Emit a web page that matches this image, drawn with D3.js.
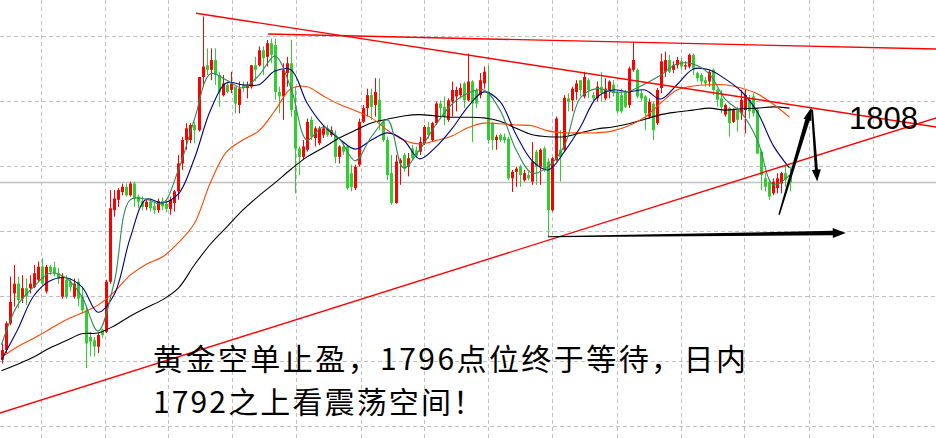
<!DOCTYPE html>
<html>
<head>
<meta charset="utf-8">
<script src="https://cdn.jsdelivr.net/npm/d3@7"></script>
<style>
  body { margin: 0; background: #fff; }
  svg { display: block; }
</style>
</head>
<body>
<svg id="chart" width="936" height="438"></svg>
<script>
// Candles: [open, high, low, close]
const candles = [
  [1770.2,1772.7,1769.6,1771.7],[1771.7,1776.1,1771.2,1775.8],[1775.8,1783.0,1775.5,1779.1],[1780.4,1784.8,1778.4,1781.9],
  [1781.9,1783.0,1778.1,1779.4],[1779.6,1783.2,1778.9,1781.2],[1781.2,1782.7,1778.6,1779.9],[1781.2,1783.2,1780.4,1781.9],
  [1781.4,1784.8,1781.2,1783.5],[1782.5,1785.3,1782.2,1784.5],[1784.5,1785.8,1781.7,1781.9],[1780.7,1784.8,1780.4,1784.5],
  [1784.5,1784.8,1783.2,1783.7],[1784.4,1785.3,1783.0,1783.5],[1783.5,1784.3,1781.9,1782.7],[1779.9,1783.5,1779.6,1783.0],
  [1782.5,1783.2,1779.6,1779.9],[1782.2,1782.7,1780.7,1781.4],[1779.9,1782.7,1779.6,1781.9],[1782.2,1782.7,1778.4,1779.6],
  [1779.9,1781.4,1777.3,1777.8],[1777.8,1778.4,1768.9,1772.7],[1773.7,1774.5,1770.7,1773.0],[1773.2,1773.7,1770.7,1772.2],
  [1772.2,1774.3,1771.2,1774.0],[1774.8,1775.0,1773.5,1774.0],[1774.5,1782.5,1774.3,1782.2],[1782.2,1796.3,1781.9,1793.5],
  [1793.2,1796.3,1792.2,1795.0],[1794.8,1796.6,1793.7,1796.3],[1796.0,1797.3,1795.5,1796.8],[1796.8,1797.3,1795.3,1795.5],
  [1795.5,1797.6,1795.3,1797.3],[1797.3,1797.6,1793.7,1795.0],[1795.3,1795.6,1793.5,1794.5],[1794.6,1795.3,1793.2,1793.7],
  [1793.7,1795.0,1793.2,1794.5],[1794.5,1795.0,1793.0,1793.5],[1793.8,1794.4,1792.6,1793.2],[1793.2,1795.0,1792.8,1794.6],
  [1794.6,1795.2,1793.2,1793.8],[1794.2,1794.8,1792.9,1793.4],[1793.4,1795.3,1792.5,1794.8],[1794.3,1796.3,1793.0,1796.1],
  [1796.1,1801.7,1794.8,1800.4],[1800.4,1804.5,1799.4,1804.0],[1804.0,1806.6,1802.5,1805.8],[1804.0,1806.6,1803.5,1806.3],
  [1806.3,1806.8,1803.5,1805.5],[1805.5,1813.7,1805.3,1813.7],[1813.7,1823.0,1812.2,1815.3],[1815.5,1818.1,1814.0,1814.8],
  [1814.8,1818.1,1813.2,1816.3],[1816.3,1818.1,1812.5,1814.0],[1814.0,1814.5,1809.1,1811.4],[1810.9,1814.0,1810.7,1812.7],
  [1812.5,1813.0,1811.2,1811.4],[1811.7,1814.5,1811.2,1812.7],[1812.2,1812.2,1808.1,1809.6],[1809.4,1813.0,1808.1,1811.9],
  [1812.5,1813.0,1811.4,1812.0],[1812.0,1813.0,1810.4,1812.5],[1812.2,1815.5,1811.9,1815.5],[1815.5,1816.8,1813.0,1814.8],
  [1815.5,1818.4,1815.3,1817.8],[1817.8,1818.4,1814.0,1816.6],[1816.8,1819.4,1815.3,1818.9],[1818.9,1819.6,1815.8,1817.1],
  [1818.6,1819.6,1810.2,1811.4],[1811.4,1812.2,1808.1,1810.7],[1810.7,1815.8,1807.1,1814.8],[1814.3,1816.8,1812.2,1815.8],
  [1815.8,1819.4,1807.6,1808.6],[1808.6,1812.2,1795.8,1802.7],[1802.7,1803.0,1798.6,1801.4],[1801.4,1804.0,1800.9,1803.0],
  [1802.5,1807.3,1802.2,1806.8],[1807.1,1807.6,1804.0,1804.5],[1804.3,1806.1,1803.0,1805.8],[1803.5,1806.1,1803.2,1805.8],
  [1804.8,1806.3,1804.3,1805.8],[1805.8,1806.3,1804.5,1804.8],[1804.8,1806.1,1804.5,1805.5],[1804.8,1805.5,1800.4,1801.4],
  [1801.4,1803.2,1800.4,1803.0],[1803.0,1803.5,1801.7,1802.2],[1803.0,1803.2,1796.3,1796.6],[1798.9,1800.2,1796.1,1796.8],
  [1796.6,1800.2,1796.3,1799.9],[1800.2,1807.3,1799.9,1806.8],[1806.8,1809.4,1806.6,1808.9],[1808.9,1811.9,1807.6,1810.9],
  [1810.9,1811.9,1807.1,1809.1],[1809.4,1813.5,1807.6,1811.4],[1810.2,1813.5,1805.5,1806.8],[1806.8,1807.1,1803.7,1804.0],
  [1804.0,1804.5,1797.8,1798.6],[1798.9,1801.7,1794.0,1794.3],[1794.3,1801.7,1794.2,1800.7],[1800.4,1801.2,1797.1,1800.9],
  [1801.7,1802.0,1799.1,1799.6],[1799.9,1802.0,1798.4,1801.2],[1802.7,1803.2,1800.9,1801.2],[1802.4,1803.0,1801.2,1801.6],
  [1802.2,1804.5,1801.7,1803.7],[1803.5,1806.3,1803.2,1806.0],[1806.0,1806.8,1804.2,1804.8],[1804.0,1806.8,1803.7,1806.6],
  [1806.6,1809.9,1806.3,1809.6],[1809.6,1810.1,1807.6,1808.9],[1809.1,1810.7,1806.3,1807.6],[1807.1,1810.4,1806.8,1810.1],
  [1809.9,1813.0,1807.6,1811.7],[1810.7,1812.2,1808.4,1811.7],[1810.9,1812.7,1810.4,1812.0],[1812.7,1813.0,1808.9,1810.1],
  [1810.1,1817.3,1809.9,1813.0],[1813.0,1813.2,1803.7,1809.6],[1811.7,1812.0,1808.9,1809.6],[1810.9,1814.3,1810.4,1813.2],
  [1812.7,1815.3,1811.9,1814.5],[1811.4,1815.5,1803.5,1804.0],[1806.6,1806.8,1802.5,1804.0],[1804.0,1804.8,1802.5,1804.5],
  [1804.8,1805.0,1803.7,1804.0],[1804.5,1805.0,1803.5,1804.0],[1804.2,1804.5,1797.8,1798.1],[1798.1,1799.4,1796.0,1799.1],
  [1799.1,1799.9,1796.8,1799.6],[1799.9,1800.2,1796.8,1798.6],[1797.8,1799.4,1797.6,1798.9],[1798.6,1799.1,1797.8,1798.1],
  [1797.6,1803.7,1797.1,1800.7],[1802.2,1802.5,1797.1,1799.9],[1799.9,1802.7,1797.1,1802.5],[1802.7,1803.0,1799.1,1799.4],
  [1800.7,1801.2,1789.1,1793.2],[1793.2,1801.4,1793.0,1801.2],[1800.9,1807.6,1800.7,1807.3],[1802.5,1805.5,1797.6,1801.4],
  [1802.5,1810.9,1802.2,1810.5],[1810.4,1811.2,1808.4,1809.9],[1810.1,1812.2,1808.4,1811.9],[1811.4,1813.2,1810.2,1812.7],
  [1813.2,1813.2,1810.7,1811.7],[1810.7,1814.5,1810.4,1813.7],[1813.2,1813.5,1810.4,1811.7],[1810.9,1811.4,1809.9,1810.4],
  [1810.4,1813.0,1809.9,1812.2],[1812.2,1814.5,1809.9,1811.2],[1810.4,1813.5,1810.1,1811.9],[1811.7,1813.2,1810.4,1813.0],
  [1812.5,1813.2,1810.7,1811.2],[1811.4,1811.7,1808.1,1808.4],[1810.9,1811.9,1808.1,1808.4],[1811.4,1811.7,1808.9,1809.1],
  [1809.4,1815.3,1808.9,1815.0],[1814.8,1819.1,1814.5,1816.3],[1814.8,1815.0,1810.4,1810.7],[1811.2,1811.7,1809.9,1810.4],
  [1810.7,1810.9,1805.5,1808.1],[1807.6,1810.4,1807.3,1809.9],[1809.6,1809.9,1804.0,1805.5],[1806.6,1812.0,1806.3,1811.7],
  [1812.0,1817.3,1811.2,1816.1],[1814.5,1817.6,1813.7,1816.3],[1816.3,1817.1,1814.3,1814.5],[1814.8,1816.1,1814.3,1815.5],
  [1815.5,1816.8,1815.0,1816.3],[1816.1,1816.6,1814.8,1815.3],[1815.3,1816.1,1814.8,1815.5],[1815.3,1817.3,1815.0,1817.1],
  [1817.1,1817.3,1814.0,1815.0],[1814.3,1814.5,1813.0,1813.5],[1814.0,1814.3,1812.5,1813.0],[1813.2,1813.7,1812.2,1812.7],
  [1813.0,1814.8,1812.2,1814.5],[1814.8,1815.0,1810.9,1811.7],[1811.7,1811.9,1809.1,1810.2],[1810.4,1811.7,1808.1,1809.1],
  [1807.9,1809.6,1807.6,1809.4],[1808.9,1809.1,1804.5,1806.6],[1806.8,1808.9,1806.6,1808.6],[1808.6,1809.1,1805.3,1807.1],
  [1808.1,1811.7,1807.1,1810.2],[1808.6,1811.7,1805.0,1810.9],[1810.2,1810.9,1807.3,1808.4],[1810.7,1811.2,1807.6,1808.1],
  [1808.6,1808.9,1801.9,1801.9],[1802.2,1802.5,1796.3,1798.6],[1798.1,1798.9,1796.1,1796.8],[1797.6,1797.9,1794.8,1795.3],
  [1795.8,1798.1,1795.5,1797.6],[1796.6,1798.9,1795.8,1798.1],[1797.3,1799.1,1795.8,1798.9],[1798.9,1800.2,1796.8,1797.9],
  [1798.6,1799.9,1796.1,1797.5]
];

// Moving averages, read every 4th bar
const maStep = 4;
const ma5  = [1772.5,1778.6,1781.4,1783.5,1782.8,1779.9,1774.6,1782.0,1794.8,1794.9,1794.2,1799.4,1807.2,1814.2,1813.2,1812.0,1813.9,1816.9,1812.0,1804.0,1806.0,1804.2,1800.8,1804.5,1807.1,1799.7,1802.5,1806.3,1809.5,1811.2,1811.7,1808.6,1802.5,1798.9,1799.9,1803.1,1810.5,1811.9,1811.4,1811.5,1812.6,1814.0,1815.7,1815.7,1814.2,1810.3,1808.2,1804.0,1797.1,1798.6];
const ma10 = [1770.2,1774.8,1780.0,1782.3,1782.8,1781.4,1777.5,1780.2,1788.9,1794.9,1794.3,1795.7,1801.2,1808.6,1812.8,1812.5,1812.5,1814.6,1814.8,1809.7,1806.3,1804.2,1802.6,1804.0,1805.1,1804.0,1801.1,1802.9,1805.7,1809.1,1811.4,1809.9,1804.8,1800.8,1799.4,1802.2,1806.0,1810.5,1811.7,1811.4,1811.7,1810.3,1812.5,1814.9,1814.8,1813.4,1811.5,1808.3,1803.1,1799.7];
const ma30 = [1770.6,1772.2,1773.5,1774.9,1776.3,1777.4,1778.6,1780.6,1783.2,1784.9,1786.0,1788.2,1791.2,1797.5,1802.2,1804.0,1805.4,1808.5,1811.9,1812.2,1810.8,1809.5,1808.5,1807.4,1805.5,1804.0,1803.4,1803.9,1804.6,1805.9,1806.6,1806.5,1806.3,1806.2,1805.4,1805.1,1805.1,1805.1,1805.4,1806.2,1807.5,1809.7,1811.7,1812.3,1812.5,1812.5,1812.0,1811.1,1809.5,1807.5];
const ma60 = [1768.5,1769.5,1770.6,1772.0,1773.1,1774.2,1774.3,1775.4,1776.9,1778.2,1779.4,1781.2,1784.8,1788.0,1790.6,1793.2,1795.4,1797.4,1799.5,1801.4,1802.8,1804.3,1805.5,1806.6,1807.2,1807.7,1807.9,1807.7,1807.5,1807.5,1807.4,1806.9,1805.8,1804.8,1804.5,1804.5,1805.1,1805.7,1806.0,1806.5,1807.2,1807.9,1808.3,1808.6,1808.9,1808.6,1808.8,1808.9,1809.1,1808.9];

// Grid: price levels and bar positions of the time lines
const gridPrices = [1760, 1770, 1780, 1790, 1800, 1810, 1820];
const gridBars = [9.8, 25.7, 41.4, 57.3, 73.3, 89.4, 105.1, 121.0, 136.9, 153.1, 169.0, 184.7, 200.9, 216.8];

// Hand drawn trend lines and arrows: [bar, price] pairs
const trendLines = [
  [[48.4, 1823.5], [232.5, 1806.0]],
  [[66.3, 1820.3], [232.5, 1818.0]],
  [[-0.4, 1762.0], [232.5, 1807.4]]
];
const arrows = [
  [[135.9, 1789.1], [210.0, 1789.7]],
  [[193.4, 1792.5], [201.4, 1809.0]],
  [[201.6, 1808.7], [202.9, 1797.6]]
];
const target = 1808;
const targetLabel = "1808";
const captions = ["黄金空单止盈，1796点位终于等待，日内", "1792之上看震荡空间！"];
const captionWidths = [593, 330];

const width = 936, height = 438;
const svg = d3.select("#chart");

const x = d3.scaleLinear().domain([0, candles.length - 1]).range([1.5, 789.5]);
const y = d3.scaleLinear().domain([1760, 1820]).range([426, 36]);

// grid
svg.append("g").selectAll("line.h")
  .data(gridPrices).enter().append("line")
  .attr("x1", 0).attr("x2", width)
  .attr("y1", d => Math.round(y(d)) + 0.5).attr("y2", d => Math.round(y(d)) + 0.5)
  .attr("stroke", "#c0c0c0").attr("stroke-dasharray", "4,3");

svg.append("g").selectAll("line.v")
  .data(gridBars).enter().append("line")
  .attr("x1", d => Math.round(x(d)) + 0.5).attr("x2", d => Math.round(x(d)) + 0.5)
  .attr("y1", 0).attr("y2", height)
  .attr("stroke", "#c0c0c0").attr("stroke-dasharray", "4,3");

// last price line
const last = candles[candles.length - 1][3];
svg.append("line")
  .attr("x1", 0).attr("x2", width)
  .attr("y1", Math.round(y(last)) + 0.5).attr("y2", Math.round(y(last)) + 0.5)
  .attr("stroke", "#c0c0c0").attr("stroke-width", 1.5);

// candles (red = up, green = down)
const up = "#ff0000", down = "#32cd32";
const bars = svg.append("g").selectAll("g")
  .data(candles).enter().append("g");

bars.append("line")
  .attr("x1", (d, i) => Math.round(x(i)) + 0.5)
  .attr("x2", (d, i) => Math.round(x(i)) + 0.5)
  .attr("y1", d => y(d[1])).attr("y2", d => y(d[2]))
  .attr("stroke", d => d[3] >= d[0] ? up : down);

bars.append("rect")
  .attr("x", (d, i) => Math.round(x(i)) - 1)
  .attr("width", 3)
  .attr("y", d => y(Math.max(d[0], d[3])))
  .attr("height", d => Math.max(1, Math.abs(y(d[0]) - y(d[3]))))
  .attr("fill", d => d[3] >= d[0] ? up : down);

// moving averages
const maLine = d3.line()
  .x((d, i) => x(i * maStep))
  .y(d => y(d))
  .curve(d3.curveCatmullRom);

[[ma60, "#000000"], [ma30, "#ff4500"], [ma10, "#000080"], [ma5, "#2e8b57"]].forEach(([data, color]) => {
  svg.append("path")
    .attr("d", maLine(data))
    .attr("fill", "none")
    .attr("stroke", color)
    .attr("stroke-width", 1.1);
});

// trend lines
svg.append("g").selectAll("line")
  .data(trendLines).enter().append("line")
  .attr("x1", d => x(d[0][0])).attr("y1", d => y(d[0][1]))
  .attr("x2", d => x(d[1][0])).attr("y2", d => y(d[1][1]))
  .attr("stroke", "#ff0000").attr("stroke-width", 1.4);

// tapered brush arrows
const arrowStyles = [
  { w0: 1, w1: 4.5, hl: 13, hw: 10 },
  { w0: 1.5, w1: 4.5, hl: 13, hw: 8 },
  { w0: 2, w1: 3, hl: 12, hw: 9 }
];

function taper(p0, p1, s) {
  const dx = p1[0] - p0[0], dy = p1[1] - p0[1];
  const len = Math.hypot(dx, dy), ux = dx / len, uy = dy / len;
  const nx = -uy, ny = ux;
  const bx = p1[0] - ux * s.hl, by = p1[1] - uy * s.hl;
  return [
    [p0[0] + nx * s.w0 / 2, p0[1] + ny * s.w0 / 2],
    [bx + nx * s.w1 / 2, by + ny * s.w1 / 2],
    [bx + nx * s.hw / 2, by + ny * s.hw / 2],
    p1,
    [bx - nx * s.hw / 2, by - ny * s.hw / 2],
    [bx - nx * s.w1 / 2, by - ny * s.w1 / 2],
    [p0[0] - nx * s.w0 / 2, p0[1] - ny * s.w0 / 2]
  ];
}

svg.append("g").selectAll("path")
  .data(arrows).enter().append("path")
  .attr("d", (d, i) => {
    const p0 = [x(d[0][0]), y(d[0][1])], p1 = [x(d[1][0]), y(d[1][1])];
    return "M" + taper(p0, p1, arrowStyles[i]).map(p => p.join(",")).join("L") + "Z";
  })
  .attr("fill", "#000");

// target label
svg.append("text")
  .attr("x", x(210.8))
  .attr("y", y(target) + 15)
  .attr("font-family", "Liberation Sans, Arial, sans-serif")
  .attr("font-size", 31)
  .attr("fill", "#000")
  .text(targetLabel);

// captions
svg.append("g").selectAll("text")
  .data(captions).enter().append("text")
  .attr("x", 153)
  .attr("y", (d, i) => 369.5 + i * 43.5)
  .attr("font-family", "Noto Sans CJK SC, sans-serif")
  .attr("font-size", 30)
  .attr("textLength", (d, i) => captionWidths[i])
  .attr("lengthAdjust", "spacing")
  .attr("fill", "#000")
  .text(d => d);
</script>
</body>
</html>
